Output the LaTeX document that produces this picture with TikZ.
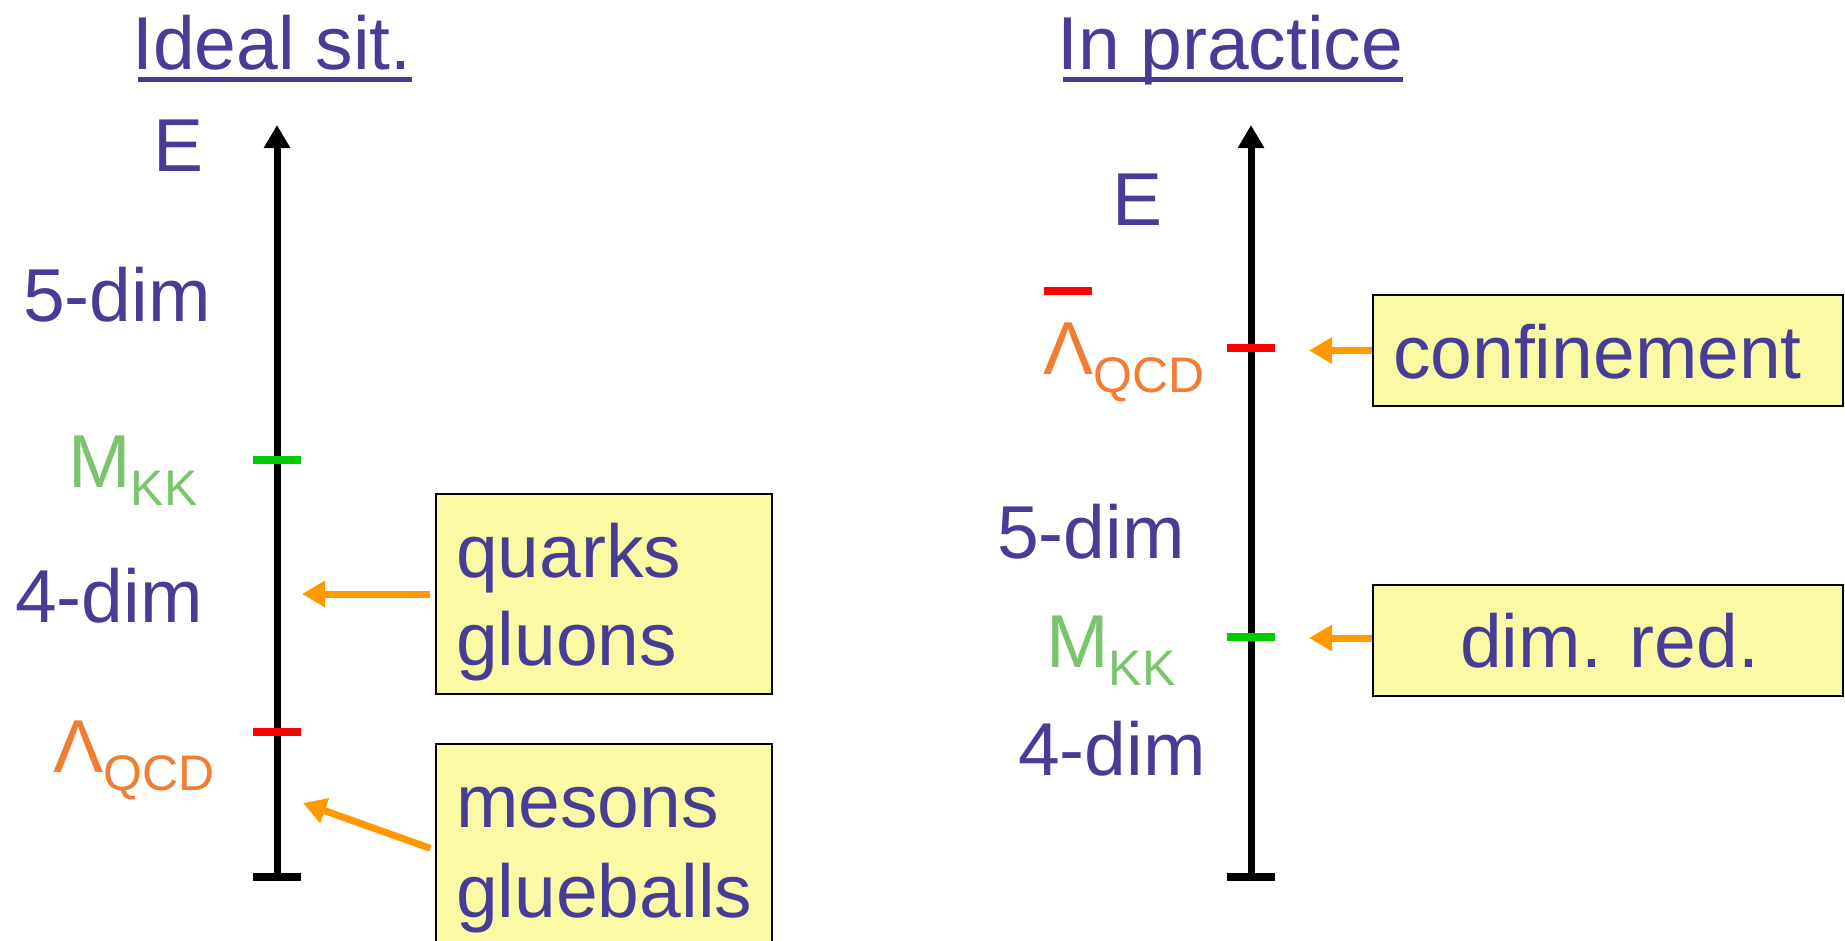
\documentclass[tikz,border=0pt]{standalone}
\usepackage{fontspec}
\setmainfont{Liberation Sans}
\usetikzlibrary{arrows.meta}
\definecolor{txtblue}{RGB}{72,61,150}
\definecolor{kkgreen}{RGB}{122,196,110}
\definecolor{lamorange}{RGB}{240,125,50}
\definecolor{tickgreen}{RGB}{0,204,0}
\definecolor{tickred}{RGB}{255,0,0}
\definecolor{arrorange}{RGB}{255,153,0}
\definecolor{boxfill}{RGB}{250,250,165}
\newcommand{\sbx}[1]{\raisebox{-18pt}{\fontsize{50}{50}\selectfont #1}}
\begin{document}
\begin{tikzpicture}[x=1pt,y=-1pt,
  lbl/.style={inner sep=0pt, anchor=base west, font=\fontsize{75}{88}\selectfont, text=txtblue},
  kk/.style={lbl, text=kkgreen},
  lam/.style={lbl, text=lamorange},
  box/.style={rectangle, draw=black, line width=2pt, fill=boxfill, inner sep=0pt},
  axisline/.style={line width=7pt, -{Triangle[length=23pt,width=25pt]}},
  tickmark/.style={line width=8pt},
  oarrow/.style={draw=arrorange, line width=7pt, -{Triangle[length=23pt,width=25pt]}},
  uline/.style={txtblue, line width=5pt}]
\clip (0,0) rectangle (1845,940);
\fill[white] (0,0) rectangle (1845,940);

% ---------- left panel ----------
\node[lbl] (t1) at (132,69) {Ideal sit.};
\draw[uline] ([xshift=6pt,yshift=-10pt]t1.base west) -- ([yshift=-10pt]t1.base east);

\coordinate (a1b) at (277,877);
\coordinate (a1t) at (277,125);
\draw[axisline] (a1b) -- (a1t);
\draw[tickmark, black] (253,877) -- (301,877);
\draw[tickmark, tickgreen] (253,460) -- (301,460);
\draw[tickmark, tickred] (253,732) -- (301,732);

\node[lbl] (e1) at (153,171) {E};
\node[lbl] (d51) at (23,321) {5-dim};
\node[kk] (m1) at (68,487) {M\sbx{KK}};
\node[lbl] (d41) at (15,622) {4-dim};
\node[lam] (l1) at (53,772) {Λ\sbx{QCD}};

\node[box, minimum width=336pt, minimum height=200pt] (b1) at (604,594) {};
\node[lbl] (q1) at (456,577) {quarks};
\node[lbl] (g1) at (456,665) {gluons};
\node[box, minimum width=336pt, minimum height=212pt] (b2) at (604,850) {};
\node[lbl] (ms1) at (456,827) {mesons};
\node[lbl] (gb1) at (456,917) {glueballs};

\coordinate (tip1) at (302,594);
\coordinate (tip2) at (303,803);
\draw[oarrow, shorten <=5pt] (b1.west) -- (tip1);
\draw[oarrow, shorten <=5pt] (b2.west) -- (tip2);

% ---------- right panel ----------
\node[lbl] (t2) at (1057,69) {In practice};
\draw[uline] ([xshift=6pt,yshift=-10pt]t2.base west) -- ([yshift=-10pt]t2.base east);

\coordinate (a2b) at (1251,877);
\coordinate (a2t) at (1251,125);
\draw[axisline] (a2b) -- (a2t);
\draw[tickmark, black] (1227,877) -- (1275,877);
\draw[tickmark, tickred] (1227,348) -- (1275,348);
\draw[tickmark, tickgreen] (1227,637) -- (1275,637);

\node[lbl] (e2) at (1112,225) {E};
\node[lam] (l2) at (1043,374) {Λ\sbx{QCD}};
\draw[tickmark, tickred] (1044,291) -- (1092,291);
\node[lbl] (d52) at (997,558) {5-dim};
\node[kk] (m2) at (1046,667) {M\sbx{KK}};
\node[lbl] (d42) at (1018,775) {4-dim};

\node[box, minimum width=470pt, minimum height=111pt] (b3) at (1608,350.5) {};
\node[lbl] (c3) at (1393,378) {confinement};
\node[box, minimum width=470pt, minimum height=111pt] (b4) at (1608,640.5) {};
\node[lbl] (r4) at (1460,667) {dim. red.};

\coordinate (tip3) at (1309,350.5);
\coordinate (tip4) at (1309,638);
\draw[oarrow] (b3.west) -- (tip3);
\draw[oarrow] (b4.west |- tip4) -- (tip4);
\end{tikzpicture}
\end{document}
